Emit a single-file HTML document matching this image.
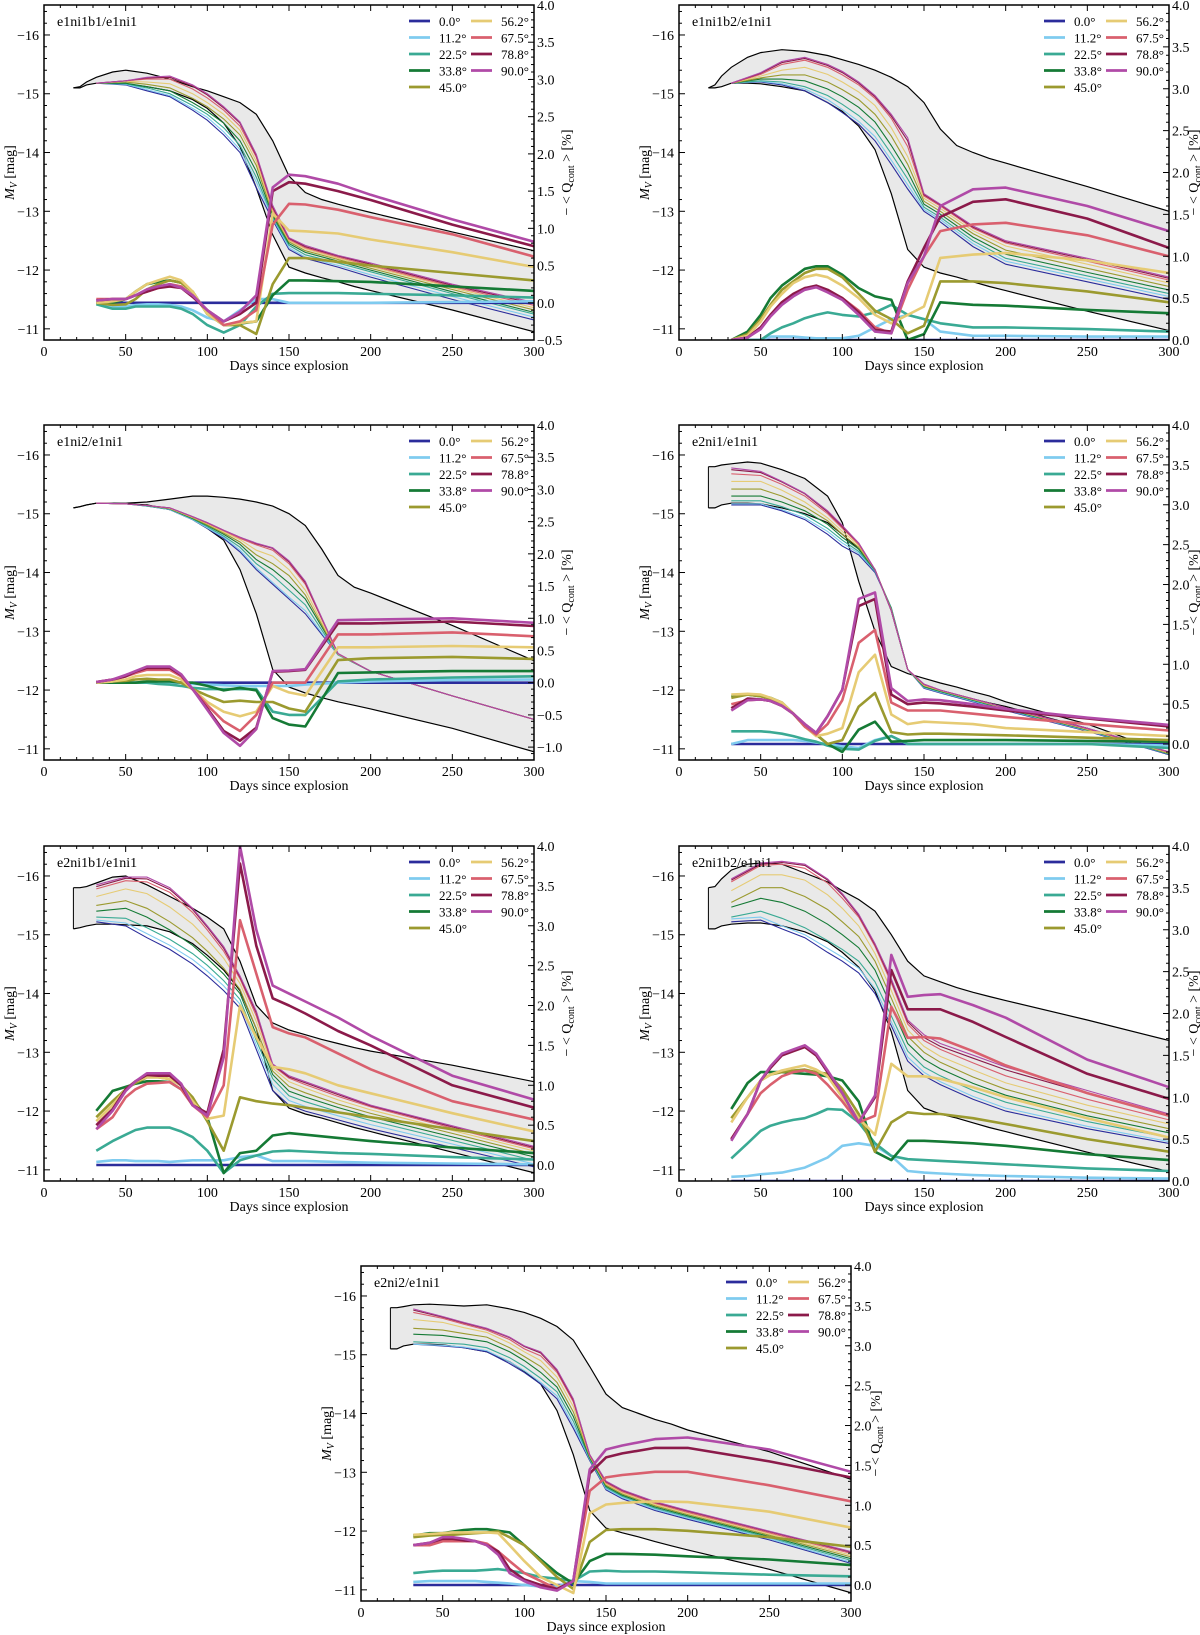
<!DOCTYPE html>
<html><head><meta charset="utf-8"><title>Light curves and polarization</title>
<style>
html,body{margin:0;padding:0;background:#fff;}
svg{display:block;font-family:"Liberation Serif","DejaVu Serif",serif;}
</style></head>
<body>
<svg id="fig" width="1200" height="1635" viewBox="0 0 1200 1635" xmlns="http://www.w3.org/2000/svg"></svg>
<script>
const angleLabels=["0.0°","11.2°","22.5°","33.8°","45.0°","56.2°","67.5°","78.8°","90.0°"];
const DB=[18,22,26,32,42,50,63,77,91,100,110,120,130,140,150,160,170,180,190,200,250,300];
const DM=[32,50,63,77,91,100,110,120,130,140,150,160,180,200,250,300];
const DQ=[32,42,50,56,63,70,77,84,91,100,110,120,130,140,150,160,180,200,250,300];
const panelTitles=["e1ni1b1/e1ni1","e1ni1b2/e1ni1","e1ni2/e1ni1","e2ni1/e1ni1","e2ni1b1/e1ni1","e2ni1b2/e1ni1","e2ni2/e1ni1"];
const qMins=[-0.5,0,-1.2,-0.2,-0.2,0,-0.2];

const p1BandA=[-15.1,-15.12,-15.2,-15.28,-15.37,-15.4,-15.35,-15.25,-15.12,-15.05,-14.95,-14.85,-14.65,-14.2,-13.6,-13.32,-13.2,-13.12,-13.05,-12.98,-12.65,-12.33];
const p1BandB=[-15.1,-15.1,-15.15,-15.18,-15.18,-15.17,-15.12,-15.05,-14.9,-14.75,-14.5,-14.1,-13.4,-12.6,-12.05,-11.95,-11.87,-11.8,-11.72,-11.65,-11.32,-10.95];
const p2BandA=[-15.1,-15.15,-15.3,-15.45,-15.62,-15.7,-15.75,-15.72,-15.65,-15.58,-15.5,-15.4,-15.28,-15.12,-14.85,-14.4,-14.12,-14.0,-13.9,-13.82,-13.42,-13.0];
const p2BandB=[-15.1,-15.1,-15.12,-15.18,-15.18,-15.17,-15.12,-15.05,-14.85,-14.7,-14.45,-14.05,-13.3,-12.35,-12.05,-11.95,-11.88,-11.8,-11.72,-11.65,-11.3,-10.97];
const p3BandA=[-15.1,-15.12,-15.15,-15.18,-15.18,-15.18,-15.2,-15.25,-15.3,-15.3,-15.28,-15.25,-15.2,-15.13,-15.0,-14.8,-14.4,-13.95,-13.75,-13.65,-13.1,-12.5];
const p3BandB=[-15.1,-15.12,-15.15,-15.18,-15.18,-15.17,-15.15,-15.07,-14.9,-14.75,-14.55,-14.05,-13.3,-12.35,-12.05,-11.95,-11.87,-11.8,-11.74,-11.68,-11.35,-10.95];
const p4BandA=[-15.8,-15.8,-15.83,-15.85,-15.88,-15.86,-15.75,-15.6,-15.3,-14.85,-13.85,-13.0,-12.4,-12.28,-12.2,-12.12,-12.05,-11.97,-11.9,-11.8,-11.42,-10.92];
const p4BandB=[-15.1,-15.1,-15.15,-15.18,-15.18,-15.17,-15.1,-15.0,-14.85,-14.65,-14.4,-14.05,-13.35,-12.35,-12.05,-11.98,-11.92,-11.85,-11.78,-11.72,-11.35,-10.9];
const p5BandA=[-15.8,-15.8,-15.82,-15.88,-15.98,-16.0,-15.85,-15.65,-15.45,-15.3,-15.1,-14.55,-13.8,-13.5,-13.38,-13.3,-13.22,-13.15,-13.08,-13.02,-12.78,-12.5];
const p5BandB=[-15.1,-15.12,-15.15,-15.18,-15.18,-15.17,-15.15,-15.05,-14.85,-14.65,-14.4,-14.05,-13.4,-12.35,-12.05,-11.95,-11.88,-11.8,-11.72,-11.65,-11.3,-10.95];
const p6BandA=[-15.8,-15.82,-15.95,-16.1,-16.2,-16.22,-16.2,-16.05,-15.9,-15.75,-15.6,-15.4,-15.0,-14.55,-14.3,-14.2,-14.1,-14.02,-13.95,-13.88,-13.55,-13.2];
const p6BandB=[-15.1,-15.1,-15.15,-15.18,-15.2,-15.2,-15.15,-15.05,-14.88,-14.7,-14.45,-14.05,-13.35,-12.35,-12.05,-11.95,-11.88,-11.8,-11.72,-11.65,-11.3,-10.97];
const p7BandA=[-15.8,-15.8,-15.82,-15.85,-15.86,-15.85,-15.83,-15.85,-15.78,-15.72,-15.62,-15.48,-15.25,-14.8,-14.33,-14.1,-14.0,-13.9,-13.82,-13.72,-13.35,-12.88];
const p7BandB=[-15.1,-15.1,-15.15,-15.18,-15.18,-15.17,-15.12,-15.05,-14.88,-14.72,-14.5,-14.05,-13.3,-12.35,-12.05,-11.97,-11.9,-11.82,-11.75,-11.68,-11.35,-10.95];

const p1MV=[
[-15.18,-15.15,-15.05,-14.95,-14.72,-14.55,-14.3,-14.0,-13.4,-12.85,-12.35,-12.2,-12.05,-11.88,-11.5,-11.15],
[-15.18,-15.16,-15.07,-14.97,-14.75,-14.6,-14.35,-14.05,-13.5,-12.88,-12.38,-12.22,-12.08,-11.92,-11.55,-11.2],
[-15.18,-15.17,-15.1,-15.0,-14.8,-14.65,-14.42,-14.12,-13.58,-12.9,-12.42,-12.26,-12.12,-11.97,-11.6,-11.25],
[-15.18,-15.18,-15.12,-15.05,-14.85,-14.7,-14.5,-14.2,-13.68,-12.93,-12.45,-12.3,-12.15,-12.0,-11.63,-11.28],
[-15.18,-15.2,-15.16,-15.1,-14.92,-14.78,-14.57,-14.3,-13.78,-12.96,-12.48,-12.33,-12.18,-12.03,-11.67,-11.32],
[-15.18,-15.21,-15.2,-15.17,-15.0,-14.85,-14.65,-14.38,-13.85,-13.0,-12.5,-12.36,-12.2,-12.06,-11.7,-11.36],
[-15.18,-15.22,-15.25,-15.25,-15.08,-14.93,-14.72,-14.45,-13.92,-13.04,-12.52,-12.38,-12.22,-12.08,-11.72,-11.4],
[-15.18,-15.22,-15.27,-15.28,-15.13,-14.98,-14.76,-14.5,-13.95,-13.07,-12.54,-12.4,-12.24,-12.1,-11.74,-11.43],
[-15.18,-15.22,-15.28,-15.3,-15.15,-15.0,-14.78,-14.52,-13.97,-13.1,-12.55,-12.42,-12.25,-12.12,-11.76,-11.45]];
const p2MV=[
[-15.18,-15.2,-15.15,-15.05,-14.85,-14.68,-14.48,-14.2,-13.8,-13.38,-13.0,-12.82,-12.4,-12.1,-11.8,-11.5],
[-15.18,-15.21,-15.17,-15.08,-14.9,-14.73,-14.53,-14.27,-13.87,-13.45,-13.03,-12.86,-12.45,-12.15,-11.85,-11.55],
[-15.18,-15.22,-15.2,-15.12,-14.97,-14.82,-14.63,-14.38,-13.98,-13.55,-13.07,-12.9,-12.5,-12.2,-11.9,-11.6],
[-15.18,-15.25,-15.25,-15.22,-15.08,-14.95,-14.77,-14.52,-14.12,-13.67,-13.12,-12.95,-12.56,-12.27,-11.96,-11.66],
[-15.18,-15.27,-15.32,-15.32,-15.2,-15.07,-14.9,-14.65,-14.28,-13.8,-13.17,-13.0,-12.62,-12.34,-12.03,-11.72],
[-15.18,-15.3,-15.4,-15.45,-15.33,-15.2,-15.03,-14.8,-14.42,-13.93,-13.22,-13.05,-12.67,-12.41,-12.1,-11.78],
[-15.18,-15.33,-15.5,-15.57,-15.45,-15.32,-15.15,-14.92,-14.58,-14.1,-13.26,-13.09,-12.71,-12.46,-12.15,-11.83],
[-15.18,-15.35,-15.53,-15.6,-15.48,-15.36,-15.18,-14.95,-14.62,-14.2,-13.28,-13.11,-12.73,-12.48,-12.18,-11.86],
[-15.18,-15.36,-15.55,-15.62,-15.5,-15.38,-15.2,-14.97,-14.65,-14.25,-13.3,-13.12,-12.75,-12.5,-12.2,-11.88]];
const p3MV=[
[-15.18,-15.17,-15.13,-15.07,-14.9,-14.75,-14.58,-14.35,-14.05,-13.8,-13.55,-13.3,-12.6,-12.32,-11.9,-11.5],
[-15.18,-15.17,-15.13,-15.07,-14.9,-14.76,-14.6,-14.38,-14.08,-13.83,-13.58,-13.35,-12.6,-12.32,-11.9,-11.5],
[-15.18,-15.17,-15.13,-15.08,-14.91,-14.78,-14.62,-14.43,-14.15,-13.95,-13.7,-13.45,-12.6,-12.32,-11.9,-11.5],
[-15.18,-15.17,-15.14,-15.08,-14.92,-14.8,-14.65,-14.48,-14.22,-14.05,-13.82,-13.55,-12.61,-12.32,-11.9,-11.5],
[-15.18,-15.17,-15.14,-15.09,-14.93,-14.81,-14.67,-14.52,-14.3,-14.15,-13.95,-13.62,-12.61,-12.32,-11.9,-11.5],
[-15.18,-15.17,-15.14,-15.09,-14.94,-14.83,-14.69,-14.56,-14.38,-14.28,-14.05,-13.7,-12.61,-12.32,-11.9,-11.5],
[-15.18,-15.17,-15.14,-15.1,-14.95,-14.84,-14.71,-14.58,-14.47,-14.38,-14.15,-13.8,-12.62,-12.32,-11.9,-11.5],
[-15.18,-15.17,-15.14,-15.1,-14.95,-14.85,-14.72,-14.6,-14.49,-14.41,-14.18,-13.83,-12.62,-12.32,-11.9,-11.5],
[-15.18,-15.17,-15.14,-15.1,-14.95,-14.85,-14.72,-14.6,-14.5,-14.42,-14.2,-13.85,-12.62,-12.32,-11.9,-11.5]];
const p4MV=[
[-15.15,-15.15,-15.05,-14.9,-14.65,-14.45,-14.3,-14.0,-13.4,-12.35,-12.03,-11.95,-11.8,-11.65,-11.3,-10.9],
[-15.17,-15.17,-15.07,-14.93,-14.7,-14.5,-14.33,-14.02,-13.4,-12.35,-12.04,-11.96,-11.81,-11.66,-11.31,-10.91],
[-15.22,-15.22,-15.12,-14.98,-14.75,-14.55,-14.36,-14.03,-13.4,-12.35,-12.05,-11.97,-11.82,-11.67,-11.32,-10.91],
[-15.3,-15.3,-15.2,-15.05,-14.82,-14.6,-14.4,-14.04,-13.38,-12.35,-12.06,-11.98,-11.83,-11.68,-11.32,-10.92],
[-15.42,-15.42,-15.3,-15.12,-14.88,-14.65,-14.43,-14.05,-13.37,-12.35,-12.07,-11.99,-11.84,-11.69,-11.33,-10.92],
[-15.55,-15.55,-15.4,-15.2,-14.93,-14.7,-14.46,-14.05,-13.36,-12.35,-12.08,-11.99,-11.84,-11.69,-11.33,-10.93],
[-15.68,-15.65,-15.5,-15.3,-15.0,-14.75,-14.48,-14.05,-13.35,-12.35,-12.09,-12.0,-11.85,-11.7,-11.34,-10.94],
[-15.75,-15.7,-15.54,-15.34,-15.03,-14.78,-14.5,-14.05,-13.35,-12.35,-12.1,-12.0,-11.85,-11.7,-11.35,-10.95],
[-15.78,-15.72,-15.55,-15.35,-15.05,-14.8,-14.5,-14.05,-13.35,-12.35,-12.1,-12.0,-11.85,-11.7,-11.35,-10.95]];
const p5MV=[
[-15.22,-15.15,-14.95,-14.75,-14.5,-14.3,-14.05,-13.75,-13.05,-12.35,-12.1,-12.0,-11.85,-11.7,-11.38,-11.05],
[-15.25,-15.2,-15.02,-14.82,-14.58,-14.38,-14.13,-13.82,-13.12,-12.45,-12.18,-12.08,-11.92,-11.77,-11.44,-11.1],
[-15.3,-15.28,-15.12,-14.92,-14.68,-14.48,-14.22,-13.9,-13.2,-12.55,-12.26,-12.16,-11.99,-11.84,-11.5,-11.16],
[-15.4,-15.45,-15.3,-15.08,-14.82,-14.6,-14.33,-14.0,-13.3,-12.62,-12.34,-12.24,-12.06,-11.9,-11.56,-11.22],
[-15.5,-15.58,-15.45,-15.22,-14.95,-14.72,-14.43,-14.07,-13.4,-12.68,-12.42,-12.31,-12.12,-11.96,-11.62,-11.27],
[-15.65,-15.78,-15.7,-15.47,-15.18,-14.92,-14.6,-14.17,-13.52,-12.73,-12.5,-12.39,-12.19,-12.02,-11.67,-11.32],
[-15.78,-15.92,-15.9,-15.72,-15.38,-15.08,-14.72,-14.25,-13.62,-12.77,-12.56,-12.45,-12.25,-12.07,-11.71,-11.36],
[-15.82,-15.96,-15.95,-15.77,-15.43,-15.13,-14.77,-14.28,-13.67,-12.79,-12.58,-12.48,-12.28,-12.09,-11.73,-11.38],
[-15.85,-15.98,-15.98,-15.8,-15.45,-15.15,-14.8,-14.3,-13.7,-12.8,-12.6,-12.5,-12.3,-12.1,-11.75,-11.4]];
const p6MV=[
[-15.22,-15.25,-15.1,-14.95,-14.7,-14.55,-14.35,-14.0,-13.45,-12.85,-12.6,-12.45,-12.2,-12.0,-11.7,-11.45],
[-15.27,-15.3,-15.15,-15.0,-14.77,-14.62,-14.43,-14.08,-13.52,-12.92,-12.66,-12.5,-12.25,-12.05,-11.74,-11.48],
[-15.3,-15.4,-15.28,-15.12,-14.9,-14.75,-14.55,-14.2,-13.62,-13.02,-12.75,-12.6,-12.35,-12.15,-11.82,-11.55],
[-15.47,-15.62,-15.55,-15.4,-15.18,-15.0,-14.78,-14.4,-13.78,-13.15,-12.88,-12.72,-12.47,-12.27,-11.92,-11.63],
[-15.55,-15.8,-15.8,-15.65,-15.43,-15.22,-14.97,-14.55,-13.92,-13.27,-13.0,-12.83,-12.58,-12.37,-12.0,-11.7],
[-15.75,-16.02,-16.02,-15.93,-15.68,-15.45,-15.15,-14.68,-14.05,-13.38,-13.1,-12.93,-12.7,-12.48,-12.1,-11.78],
[-15.9,-16.18,-16.2,-16.13,-15.88,-15.62,-15.3,-14.8,-14.18,-13.48,-13.2,-13.05,-12.82,-12.6,-12.2,-11.85],
[-15.93,-16.2,-16.23,-16.18,-15.93,-15.68,-15.33,-14.83,-14.22,-13.52,-13.25,-13.1,-12.9,-12.7,-12.3,-11.92],
[-15.95,-16.22,-16.25,-16.2,-15.95,-15.7,-15.35,-14.85,-14.25,-13.55,-13.3,-13.15,-12.95,-12.75,-12.35,-11.95]];
const p7MV=[
[-15.18,-15.15,-15.12,-15.05,-14.85,-14.7,-14.5,-14.25,-13.75,-13.2,-12.7,-12.55,-12.35,-12.2,-11.85,-11.45],
[-15.18,-15.16,-15.13,-15.07,-14.88,-14.73,-14.53,-14.3,-13.8,-13.22,-12.72,-12.57,-12.37,-12.22,-11.87,-11.47],
[-15.22,-15.2,-15.18,-15.12,-14.95,-14.8,-14.6,-14.37,-13.87,-13.23,-12.74,-12.59,-12.39,-12.24,-11.89,-11.5],
[-15.35,-15.33,-15.28,-15.22,-15.05,-14.9,-14.7,-14.45,-13.95,-13.25,-12.76,-12.61,-12.41,-12.26,-11.91,-11.53],
[-15.45,-15.42,-15.36,-15.3,-15.12,-14.97,-14.8,-14.53,-14.03,-13.27,-12.78,-12.63,-12.43,-12.28,-11.93,-11.56],
[-15.6,-15.55,-15.46,-15.38,-15.2,-15.05,-14.9,-14.62,-14.12,-13.28,-12.8,-12.65,-12.45,-12.3,-11.95,-11.59],
[-15.72,-15.62,-15.52,-15.42,-15.26,-15.1,-14.98,-14.7,-14.2,-13.29,-12.82,-12.67,-12.47,-12.32,-11.97,-11.62],
[-15.76,-15.64,-15.54,-15.44,-15.29,-15.14,-15.03,-14.73,-14.23,-13.3,-12.84,-12.69,-12.49,-12.34,-11.99,-11.64],
[-15.78,-15.65,-15.55,-15.45,-15.3,-15.15,-15.05,-14.75,-14.25,-13.3,-12.85,-12.7,-12.5,-12.35,-12.0,-11.65]];

const Z=[0,0,0,0,0,0,0,0,0,0,0,0,0,0,0,0,0,0,0,0];
const p1Q=[Z,
[0.0,-0.05,-0.05,-0.03,-0.02,-0.02,-0.03,-0.05,-0.1,-0.2,-0.25,-0.1,0.05,0.05,0.0,0.0,0.0,0.0,0.01,0.02],
[-0.02,-0.08,-0.08,-0.05,-0.05,-0.05,-0.05,-0.08,-0.15,-0.3,-0.4,-0.3,-0.05,0.12,0.13,0.13,0.13,0.12,0.1,0.07],
[0.0,0.0,0.05,0.15,0.25,0.28,0.3,0.27,0.15,-0.15,-0.3,-0.28,-0.25,0.1,0.3,0.3,0.29,0.28,0.22,0.16],
[0.0,-0.03,-0.02,0.05,0.18,0.25,0.3,0.27,0.15,-0.15,-0.3,-0.3,-0.42,0.25,0.6,0.6,0.55,0.5,0.4,0.3],
[0.0,0.02,0.05,0.15,0.25,0.3,0.35,0.3,0.15,-0.15,-0.3,-0.27,-0.25,1.2,0.97,0.96,0.93,0.85,0.68,0.48],
[0.05,0.05,0.05,0.1,0.15,0.2,0.25,0.22,0.1,-0.1,-0.3,-0.25,-0.1,1.05,1.33,1.32,1.25,1.15,0.92,0.62],
[0.03,0.05,0.05,0.1,0.15,0.2,0.22,0.2,0.08,-0.1,-0.25,-0.15,0.0,1.5,1.62,1.6,1.5,1.38,1.05,0.76],
[0.03,0.05,0.05,0.1,0.18,0.22,0.25,0.2,0.1,-0.1,-0.25,-0.12,0.1,1.55,1.72,1.7,1.6,1.45,1.12,0.82]];
const p2Q=[Z,
[0,0,0,0.04,0.04,0.04,0.03,0.02,0.02,0.02,0.05,0.15,0.25,0.3,0.25,0.1,0.05,0.05,0.04,0.04],
[0,0,0,0.08,0.15,0.2,0.26,0.3,0.33,0.3,0.28,0.33,0.42,0.3,0.25,0.2,0.15,0.15,0.13,0.1],
[0,0.1,0.3,0.5,0.65,0.75,0.85,0.88,0.88,0.78,0.62,0.52,0.48,0.0,0.07,0.45,0.42,0.41,0.36,0.32],
[0,0.07,0.25,0.42,0.6,0.7,0.8,0.85,0.85,0.75,0.55,0.35,0.25,0.08,0.17,0.7,0.7,0.68,0.58,0.45],
[0,0.05,0.22,0.4,0.55,0.68,0.75,0.78,0.75,0.65,0.5,0.3,0.2,0.3,0.4,0.98,1.02,1.04,0.95,0.8],
[0,0.03,0.15,0.3,0.45,0.55,0.62,0.63,0.58,0.5,0.35,0.15,0.08,0.6,1.0,1.3,1.38,1.4,1.25,1.0],
[0,0.03,0.15,0.3,0.45,0.55,0.62,0.65,0.6,0.5,0.33,0.12,0.1,0.7,1.1,1.47,1.65,1.68,1.45,1.1],
[0,0.03,0.13,0.28,0.42,0.52,0.6,0.63,0.57,0.48,0.3,0.1,0.08,0.68,1.0,1.6,1.8,1.82,1.6,1.3]];
const p3Q=[Z,
[0,0,0,0,0,0,0,0,-0.02,-0.03,-0.04,-0.05,-0.05,-0.05,-0.05,-0.03,0.0,0.02,0.04,0.05],
[0,0,0,0,0,-0.02,-0.03,-0.05,-0.08,-0.1,-0.1,-0.1,-0.1,-0.45,-0.5,-0.5,0.02,0.05,0.08,0.1],
[0,0,0,0,0.02,0.02,0.02,0.0,0.0,-0.05,-0.12,-0.08,-0.12,-0.55,-0.65,-0.68,0.15,0.16,0.18,0.18],
[0,0.02,0.03,0.05,0.06,0.05,0.05,0.0,-0.1,-0.2,-0.3,-0.28,-0.3,-0.3,-0.4,-0.45,0.35,0.38,0.4,0.37],
[0,0.02,0.05,0.1,0.12,0.12,0.12,0.05,-0.1,-0.3,-0.45,-0.52,-0.45,-0.05,-0.15,-0.2,0.55,0.55,0.57,0.55],
[0.01,0.05,0.1,0.15,0.2,0.2,0.2,0.1,-0.1,-0.35,-0.6,-0.75,-0.5,0.0,0.0,0.0,0.75,0.75,0.78,0.72],
[0.01,0.05,0.1,0.17,0.23,0.23,0.23,0.12,-0.1,-0.4,-0.75,-0.9,-0.7,0.17,0.18,0.2,0.92,0.92,0.95,0.88],
[0.01,0.05,0.12,0.18,0.25,0.25,0.25,0.13,-0.1,-0.42,-0.78,-0.98,-0.72,0.18,0.19,0.21,0.97,0.98,1.0,0.93]];
const p4Q=[Z,
[0.0,0.05,0.05,0.05,0.05,0.05,0.04,0.02,0.0,-0.03,-0.05,0.05,0.1,0.0,0.0,0.0,0.0,0.0,0.0,-0.02],
[0.16,0.16,0.16,0.15,0.13,0.1,0.06,0.03,-0.02,-0.06,-0.07,0.04,0.1,0.0,0.0,0.0,0.0,0.0,0.0,-0.05],
[0.6,0.62,0.6,0.58,0.52,0.38,0.22,0.12,0.0,-0.1,0.18,0.28,0.03,0.04,0.05,0.05,0.05,0.05,0.04,0.03],
[0.58,0.62,0.6,0.57,0.52,0.38,0.22,0.12,0.0,0.05,0.47,0.64,0.15,0.12,0.13,0.13,0.12,0.11,0.08,0.05],
[0.62,0.63,0.62,0.58,0.52,0.38,0.22,0.1,0.13,0.2,0.9,1.12,0.37,0.25,0.28,0.27,0.25,0.2,0.15,0.1],
[0.5,0.55,0.56,0.54,0.48,0.38,0.22,0.12,0.25,0.55,1.27,1.43,0.52,0.42,0.42,0.42,0.38,0.34,0.25,0.17],
[0.45,0.57,0.56,0.54,0.48,0.38,0.25,0.14,0.35,0.68,1.73,1.82,0.62,0.5,0.52,0.51,0.47,0.42,0.32,0.22],
[0.42,0.55,0.56,0.54,0.48,0.38,0.25,0.14,0.35,0.68,1.82,1.9,0.7,0.54,0.56,0.55,0.5,0.44,0.33,0.24]];
const p5Q=[Z,
[0.04,0.06,0.06,0.05,0.05,0.05,0.04,0.05,0.06,0.06,0.06,0.1,0.12,0.05,0.05,0.05,0.04,0.03,0.02,0.01],
[0.18,0.3,0.38,0.44,0.47,0.47,0.47,0.42,0.35,0.18,-0.1,0.06,0.12,0.17,0.18,0.17,0.15,0.14,0.1,0.07],
[0.68,0.93,0.98,1.02,1.05,1.05,1.04,0.95,0.82,0.6,-0.1,0.15,0.18,0.37,0.4,0.38,0.34,0.3,0.22,0.15],
[0.6,0.8,0.95,1.03,1.1,1.1,1.08,1.0,0.85,0.55,0.18,0.85,0.8,0.77,0.75,0.72,0.66,0.6,0.45,0.3],
[0.55,0.75,0.95,1.05,1.1,1.1,1.08,1.0,0.8,0.58,0.62,2.0,1.6,1.23,1.2,1.15,1.0,0.9,0.65,0.42],
[0.45,0.6,0.85,0.95,1.02,1.03,1.04,0.95,0.75,0.6,1.0,3.07,2.4,1.73,1.65,1.6,1.4,1.2,0.8,0.57],
[0.5,0.7,0.95,1.05,1.13,1.12,1.12,1.0,0.75,0.65,1.45,3.78,2.75,2.09,2.0,1.9,1.68,1.5,1.0,0.72],
[0.45,0.68,0.93,1.05,1.15,1.15,1.15,1.02,0.75,0.62,1.35,4.0,2.95,2.25,2.15,2.05,1.85,1.62,1.12,0.82]];
const p6Q=[Z,
[0.05,0.06,0.08,0.09,0.1,0.13,0.16,0.22,0.28,0.42,0.45,0.42,0.3,0.12,0.1,0.09,0.07,0.06,0.04,0.03],
[0.27,0.45,0.6,0.66,0.7,0.73,0.75,0.8,0.86,0.85,0.7,0.45,0.3,0.26,0.25,0.24,0.22,0.2,0.15,0.12],
[0.86,1.17,1.3,1.3,1.3,1.29,1.28,1.27,1.25,1.2,0.95,0.35,0.25,0.48,0.48,0.47,0.45,0.42,0.32,0.25],
[0.75,1.0,1.2,1.27,1.3,1.32,1.33,1.3,1.28,1.1,0.8,0.35,0.7,0.82,0.8,0.8,0.75,0.68,0.5,0.35],
[0.7,1.0,1.2,1.27,1.32,1.35,1.38,1.33,1.25,1.0,0.75,0.55,1.4,1.25,1.25,1.22,1.12,1.0,0.75,0.52],
[0.5,0.8,1.05,1.15,1.25,1.3,1.32,1.28,1.15,0.95,0.7,0.78,2.08,1.71,1.72,1.7,1.55,1.38,1.05,0.78],
[0.5,0.8,1.2,1.35,1.5,1.55,1.6,1.5,1.3,1.05,0.7,1.0,2.52,2.05,2.05,2.05,1.9,1.72,1.28,0.98],
[0.48,0.8,1.2,1.37,1.52,1.57,1.62,1.52,1.32,1.05,0.7,1.02,2.7,2.2,2.22,2.23,2.1,1.95,1.45,1.12]];
const p7Q=[Z,
[0.04,0.05,0.05,0.05,0.05,0.05,0.04,0.03,0.02,0.0,-0.02,-0.02,0.05,0.04,0.02,0.02,0.02,0.02,0.02,0.02],
[0.15,0.17,0.18,0.18,0.18,0.18,0.19,0.2,0.18,0.15,0.1,0.08,0.05,0.17,0.18,0.17,0.17,0.16,0.13,0.11],
[0.62,0.65,0.65,0.67,0.69,0.7,0.7,0.68,0.66,0.5,0.32,0.15,0.02,0.3,0.39,0.39,0.38,0.36,0.32,0.25],
[0.6,0.62,0.63,0.63,0.64,0.65,0.66,0.67,0.6,0.5,0.3,0.1,-0.05,0.54,0.69,0.7,0.7,0.68,0.6,0.48],
[0.63,0.64,0.65,0.66,0.66,0.66,0.66,0.65,0.5,0.3,0.1,0.0,-0.1,0.9,1.01,1.03,1.05,1.04,0.92,0.72],
[0.5,0.5,0.55,0.55,0.55,0.55,0.52,0.42,0.3,0.15,0.05,-0.05,0.05,1.18,1.35,1.38,1.42,1.42,1.25,1.05],
[0.5,0.53,0.58,0.58,0.56,0.55,0.5,0.42,0.2,0.07,0.0,-0.05,0.05,1.4,1.6,1.65,1.72,1.72,1.55,1.35],
[0.5,0.53,0.6,0.6,0.58,0.55,0.5,0.38,0.15,0.05,-0.03,-0.07,0.05,1.45,1.7,1.75,1.83,1.85,1.7,1.42]];

const bandsA=[p1BandA,p2BandA,p3BandA,p4BandA,p5BandA,p6BandA,p7BandA];
const bandsB=[p1BandB,p2BandB,p3BandB,p4BandB,p5BandB,p6BandB,p7BandB];
const mvSets=[p1MV,p2MV,p3MV,p4MV,p5MV,p6MV,p7MV];
const qSets=[p1Q,p2Q,p3Q,p4Q,p5Q,p6Q,p7Q];

// layout (not data)
const layout=[{L:44,T:5,rl:37},{L:679,T:5,rl:29},{L:44,T:425,rl:37},{L:679,T:425,rl:29},{L:44,T:846,rl:37},{L:679,T:846,rl:29},{L:361,T:1266,rl:29}];
const W=490,H=335,MVTOP=-16.51,MVBOT=-10.81,QMAX=4;
const colors=['#2b2c9b','#7fcbef','#3aaa94','#157a35','#9b9a2f','#e6cb74','#d9606e','#8b1a4a','#b04aa7'];
const NS='http://www.w3.org/2000/svg';
const svg=document.getElementById('fig');
function mk(tag,attrs,parent){const e=document.createElementNS(NS,tag);for(const k in attrs)e.setAttribute(k,attrs[k]);(parent||svg).appendChild(e);return e;}
function fmt(v,dec){const s=Math.abs(v).toFixed(dec);return (v<-1e-9?'\u2212':'')+s;}

layout.forEach((P,pi)=>{
  const qmin=qMins[pi];
  const xS=d=>P.L+d/300*W;
  const yM=m=>P.T+(m-MVTOP)/(MVBOT-MVTOP)*H;
  const yQ=q=>P.T+(QMAX-q)/(QMAX-qmin)*H;
  const g=mk('g',{});
  
  
  const cp=mk('clipPath',{id:'clip'+pi},g);
  mk('rect',{x:P.L,y:P.T,width:W,height:H},cp);
  const plot=mk('g',{'clip-path':'url(#clip'+pi+')'},g);
  const A=bandsA[pi],B=bandsB[pi];
  let pts=DB.map((d,i)=>xS(d).toFixed(1)+','+yM(A[i]).toFixed(1));
  let ptsB=DB.map((d,i)=>xS(d).toFixed(1)+','+yM(B[i]).toFixed(1)).reverse();
  const band=mk('polygon',{points:pts.concat(ptsB).join(' '),fill:'#e9e9e9',stroke:'none'},plot);
  
  
  const la=mk('polyline',{points:pts.join(' '),fill:'none',stroke:'#000','stroke-width':1.2},plot);
  
  
  const lb=mk('polyline',{points:ptsB.join(' '),fill:'none',stroke:'#000','stroke-width':1.2},plot);
  
  
  if(pi>=3){mk('line',{x1:xS(DB[0]),x2:xS(DB[0]),y1:yM(A[0]),y2:yM(B[0]),stroke:'#000','stroke-width':1},plot);}
  mvSets[pi].forEach((row,k)=>{
    const l=mk('polyline',{points:DM.map((d,i)=>xS(d).toFixed(1)+','+yM(row[i]).toFixed(1)).join(' '),fill:'none',stroke:colors[k],'stroke-width':1.1},plot);
    
    
  });
  qSets[pi].forEach((row,k)=>{
    const l=mk('polyline',{points:DQ.map((d,i)=>xS(d).toFixed(1)+','+yQ(row[i]).toFixed(1)).join(' '),fill:'none',stroke:colors[k],'stroke-width':2.6,'stroke-linejoin':'round'},plot);
    
    
  });
  const fr=mk('rect',{x:P.L,y:P.T,width:W,height:H,fill:'none',stroke:'#000','stroke-width':1.5},g);
  
  
  for(let d=0;d<=300;d+=10){
    const maj=d%50===0,len=maj?6:3,x=xS(d);
    mk('line',{x1:x,x2:x,y1:P.T+H,y2:P.T+H-len,stroke:'#000','stroke-width':1},g);
    mk('line',{x1:x,x2:x,y1:P.T,y2:P.T+len,stroke:'#000','stroke-width':1},g);
    if(maj){const t=mk('text',{x:x,y:P.T+H+16,'text-anchor':'middle','font-size':14},g);t.textContent=d;
      }
  }
  const xl=mk('text',{x:P.L+W/2,y:P.T+H+30,'text-anchor':'middle','font-size':14},g);
  xl.textContent='Days since explosion';
  
  
  for(let m=-16.4;m<=-10.85;m+=0.2){
    const mr=Math.round(m*10)/10,y=yM(mr),maj=Math.abs(mr-Math.round(mr))<1e-6,len=maj?6:3;
    mk('line',{x1:P.L,x2:P.L+len,y1:y,y2:y,stroke:'#000','stroke-width':1},g);
    if(maj){const t=mk('text',{x:P.L-5,y:y+5,'text-anchor':'end','font-size':14},g);t.textContent=fmt(mr,0);
      }
  }
  const yl=mk('text',{x:0,y:0,'text-anchor':'middle','font-size':14,transform:'translate('+(P.L-30)+','+(P.T+H/2)+') rotate(-90)'},g);
  yl.innerHTML='<tspan font-style="italic">M</tspan><tspan font-style="italic" font-size="10" dy="3">V</tspan><tspan dy="-3"> [mag]</tspan>';
  
  
  for(let q=Math.ceil(qmin*10)/10;q<=QMAX+1e-6;q+=0.1){
    const qr=Math.round(q*10)/10,y=yQ(qr),maj=Math.abs(qr*2-Math.round(qr*2))<1e-6,len=maj?6:3;
    mk('line',{x1:P.L+W,x2:P.L+W-len,y1:y,y2:y,stroke:'#000','stroke-width':1},g);
    if(maj){const t=mk('text',{x:P.L+W+3,y:y+5,'text-anchor':'start','font-size':14},g);t.textContent=fmt(qr,1);
      }
  }
  const rl=mk('text',{x:0,y:0,'text-anchor':'middle','font-size':14,transform:'translate('+(P.L+W+P.rl)+','+(P.T+H/2)+') rotate(-90)'},g);
  rl.innerHTML='\u2212 &lt; Q<tspan font-size="10" dy="3">cont</tspan><tspan dy="-3"> &gt; [%]</tspan>';
  
  
  const tt=mk('text',{x:P.L+13,y:P.T+21,'font-size':14},g);
  tt.textContent=panelTitles[pi];
  
  
  const lg=mk('g',{},g);
  
  
  angleLabels.forEach((lab,k)=>{
    const col=k<5?0:1,row=k<5?k:k-5;
    const x0=P.L+W-(col?63:125),y=P.T+16+row*16.5;
    const e=mk('g',{},lg);
    
    
    mk('line',{x1:x0,x2:x0+21,y1:y,y2:y,stroke:colors[k],'stroke-width':2.8},e);
    const t=mk('text',{x:x0+30,y:y+5,'font-size':13},e);t.textContent=lab;
  });
});
</script>
</body></html>
